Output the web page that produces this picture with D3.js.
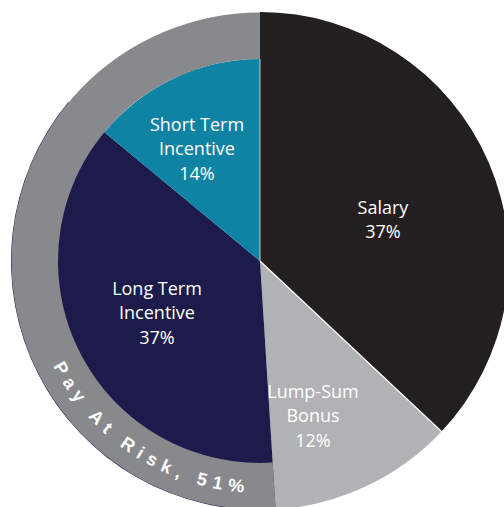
<!DOCTYPE html>
<html lang="en">
    <head>
        <meta charset="utf-8">
        <title>Pay Mix</title>
        <script src="https://d3js.org/d3.v7.min.js"></script>
        <style type="text/css">
            body { margin: 0; background: #fff; }
            .lbl { font-family: "Open Sans", sans-serif; font-size: 18px; fill: #fff; }
            .risk { font-family: "Liberation Sans", Arial, sans-serif; font-weight: bold; font-size: 18px; fill: #fff; letter-spacing: 6.3px; }
        </style>
    </head>
    <body>
        <script type="text/javascript">

        // Data
        const categories = ["Salary", "Lump-Sum Bonus", "Long Term Incentive", "Short Term Incentive"];
        const values = [37, 12, 37, 14];
        const labelLines = [["Salary"], ["Lump-Sum", "Bonus"], ["Long Term", "Incentive"], ["Short Term", "Incentive"]];
        const riskCategories = ["Long Term Incentive", "Short Term Incentive"];
        const riskLabel = "Pay At Risk, 51%";

        // Constants
        const w = 504;
        const h = 507;
        const cx = 260, cy = 261;
        const R = 249;
        const rInner = 202;
        const colors = {
            "Salary": "#231f20",
            "Lump-Sum Bonus": "#b1b2b5",
            "Long Term Incentive": "#1c1b4b",
            "Short Term Incentive": "#0f83a3"
        };
        // label block centre, offset from pie centre
        const labelOffset = {
            "Salary": [123, -41],
            "Lump-Sum Bonus": [53, 155],
            "Long Term Incentive": [-103, 52],
            "Short Term Incentive": [-63, -112]
        };
        const lineH = 24.5;

        const data = categories.map((c, i) => ({cat: c, value: values[i], lines: labelLines[i]}));

        const svg = d3.select("body")
                      .append("svg")
                      .attr("width", w)
                      .attr("height", h);

        const g = svg.append("g")
                     .attr("transform", "translate(" + cx + "," + cy + ")");

        const pie = d3.pie().sort(null).value(d => d.value);
        const arcs = pie(data);

        const arcFull = d3.arc().innerRadius(0).outerRadius(R);
        const arcRisk = d3.arc().innerRadius(0).outerRadius(rInner);

        // slices
        g.selectAll("path.slice")
         .data(arcs)
         .enter()
         .append("path")
         .attr("class", "slice")
         .attr("d", d => {
             if (d.data.cat === "Short Term Incentive") return arcRisk(d);
             return arcFull(d);
         })
         .attr("fill", d => colors[d.data.cat]);

        // outer ring for pay at risk
        const riskArcs = arcs.filter(d => riskCategories.includes(d.data.cat));
        const ringStart = d3.min(riskArcs, d => d.startAngle);
        const ringEnd = d3.max(riskArcs, d => d.endAngle);

        g.append("path")
         .attr("d", d3.arc().innerRadius(rInner).outerRadius(R - 0.5)({startAngle: ringStart, endAngle: ringEnd}))
         .attr("fill", "#88898c");

        // separators
        g.append("line")
         .attr("x1", 0).attr("y1", 0)
         .attr("x2", R * Math.sin(arcs[0].endAngle))
         .attr("y2", -R * Math.cos(arcs[0].endAngle))
         .attr("stroke", "#ffffff")
         .attr("stroke-width", 1.2);
        g.append("line")
         .attr("x1", 0).attr("y1", 0)
         .attr("x2", 0).attr("y2", -rInner)
         .attr("stroke", "#c5ccd0")
         .attr("stroke-width", 1);

        // labels
        arcs.forEach(d => {
            const off = labelOffset[d.data.cat];
            const lines = d.data.lines.concat([d.data.value + "%"]);
            const n = lines.length;
            const t = g.append("text")
                       .attr("class", "lbl")
                       .attr("text-anchor", "middle");
            lines.forEach((s, i) => {
                t.append("tspan")
                 .attr("x", off[0])
                 .attr("y", off[1] + (i - (n - 1) / 2) * lineH + 6)
                 .text(s);
            });
        });

        // curved text
        const rText = 232;
        const midA = (212.8 - 90) * Math.PI / 180;
        const half = 60 * Math.PI / 180;
        const p = d3.path();
        p.arc(0, 0, rText, midA + half, midA - half, true);
        g.append("path")
         .attr("id", "riskPath")
         .attr("d", p.toString())
         .attr("fill", "none");

        g.append("text")
         .attr("class", "risk")
         .append("textPath")
         .attr("href", "#riskPath")
         .attr("startOffset", "50%")
         .attr("text-anchor", "middle")
         .text(riskLabel);

        </script>
    </body>
</html>
